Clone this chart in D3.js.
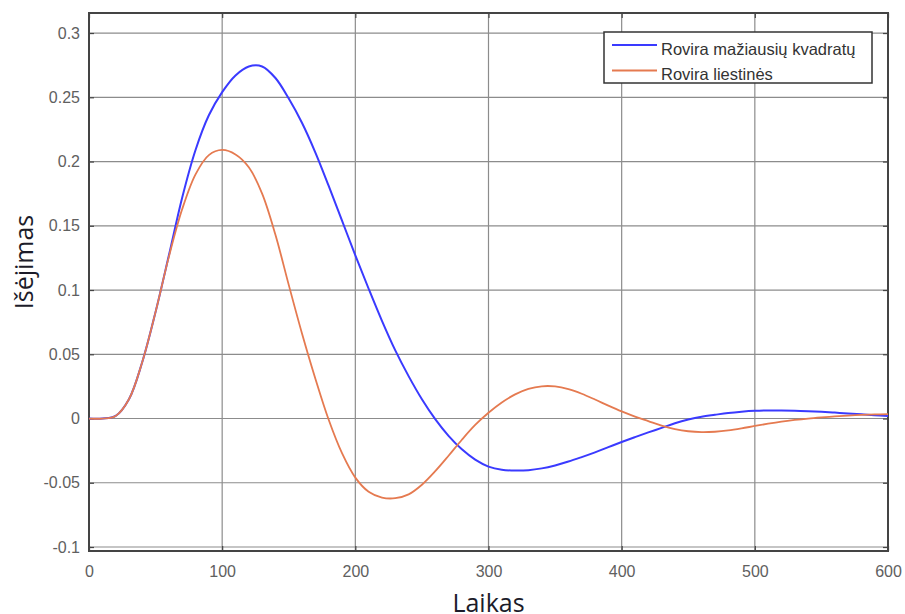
<!DOCTYPE html>
<html>
<head>
<meta charset="utf-8">
<script src="https://cdn.jsdelivr.net/npm/d3@7"></script>
<style>
  body { margin: 0; background: #fff; }
  svg { display: block; }
</style>
</head>
<body>
<div id="chart"></div>
<script>
// Step response comparison: least-squares vs tangent Rovira tuning

const laikas = d3.range(0, 601, 10);

const roviraMaziausiu = [
  0, 0, 0.002, 0.015, 0.044, 0.083, 0.127, 0.172, 0.209, 0.236,
  0.254, 0.267, 0.274, 0.274, 0.265, 0.249, 0.23, 0.207, 0.181, 0.154,
  0.127, 0.101, 0.076, 0.053, 0.033, 0.015, -0.0005, -0.0135, -0.024, -0.032,
  -0.0374, -0.0399, -0.0405, -0.0402, -0.0388, -0.0365, -0.0335, -0.030, -0.0263, -0.0223,
  -0.0183, -0.0145, -0.0108, -0.0073, -0.0037, -0.0008, 0.0014, 0.0029, 0.0043, 0.0053,
  0.006, 0.0063, 0.0063, 0.0061, 0.0057, 0.0052, 0.0046, 0.004, 0.0033, 0.0026,
  0.002
];

const roviraLiestines = [
  0, 0, 0.002, 0.015, 0.044, 0.083, 0.126, 0.163, 0.19, 0.205,
  0.209, 0.2055, 0.1955, 0.175, 0.143, 0.104, 0.066, 0.031, -0.001, -0.027,
  -0.046, -0.057, -0.0615, -0.062, -0.059, -0.0515, -0.041, -0.029, -0.0165, -0.005,
  0.0045, 0.0125, 0.0188, 0.0231, 0.0251, 0.025, 0.0229, 0.0193, 0.0148, 0.01,
  0.0055, 0.0015, -0.002, -0.0055, -0.0082, -0.0099, -0.0106, -0.0103, -0.0093, -0.0077,
  -0.0058, -0.004, -0.0024, -0.0011, 0, 0.0009, 0.0017, 0.0023, 0.0028, 0.0032,
  0.0034
];

const xTicks = [0, 100, 200, 300, 400, 500, 600];
const yTicks = [-0.1, -0.05, 0, 0.05, 0.1, 0.15, 0.2, 0.25, 0.3];
const seriesNames = ['Rovira mažiausių kvadratų', 'Rovira liestinės'];
const seriesColors = ['#3a3aff', '#e57a50'];

const width = 905, height = 614;
const margin = { top: 13, right: 17, bottom: 63, left: 89 };

const svg = d3.select('#chart').append('svg')
  .attr('width', width)
  .attr('height', height);

const x = d3.scaleLinear().domain([0, 600]).range([margin.left, width - margin.right]);
const y = d3.scaleLinear().domain([-0.1031, 0.3156]).range([height - margin.bottom, margin.top]);

const x0 = x.range()[0], x1 = x.range()[1];
const y0 = y.range()[0], y1 = y.range()[1];

// grid
const grid = svg.append('g').attr('stroke', '#8c8c8c').attr('stroke-width', 1.2);
grid.selectAll('.vg').data(xTicks.slice(1, -1)).join('line')
  .attr('x1', d => x(d)).attr('x2', d => x(d))
  .attr('y1', y1).attr('y2', y0);
grid.selectAll('.hg').data(yTicks).join('line')
  .attr('x1', x0).attr('x2', x1)
  .attr('y1', d => y(d)).attr('y2', d => y(d));

// axes with inward ticks, box style; plain hyphen for negatives
const fmt = d => String(+d.toFixed(2));
const axisStyle = g => {
  g.select('.domain').remove();
  g.selectAll('.tick line').attr('stroke', '#444').attr('stroke-width', 1.2);
  g.selectAll('.tick text')
    .attr('fill', '#606060')
    .attr('font-family', 'Liberation Sans, Arial, sans-serif')
    .attr('font-size', 16);
};

svg.append('g').attr('transform', `translate(0,${y0})`)
  .call(d3.axisBottom(x).tickValues(xTicks).tickSize(-5).tickPadding(15).tickFormat(fmt))
  .call(axisStyle);
svg.append('g').attr('transform', `translate(0,${y1})`)
  .call(d3.axisTop(x).tickValues(xTicks).tickSize(-5).tickFormat(''))
  .call(axisStyle);
svg.append('g').attr('transform', `translate(${x0},0)`)
  .call(d3.axisLeft(y).tickValues(yTicks).tickSize(-5).tickPadding(9).tickFormat(fmt))
  .call(axisStyle);
svg.append('g').attr('transform', `translate(${x1},0)`)
  .call(d3.axisRight(y).tickValues(yTicks).tickSize(-5).tickFormat(''))
  .call(axisStyle);

// frame
svg.append('rect')
  .attr('x', x0).attr('y', y1)
  .attr('width', x1 - x0).attr('height', y0 - y1)
  .attr('fill', 'none').attr('stroke', '#444').attr('stroke-width', 2);

// lines
const line = d3.line()
  .x((d, i) => x(laikas[i]))
  .y(d => y(d))
  .curve(d3.curveCatmullRom.alpha(0.5));

[roviraMaziausiu, roviraLiestines].forEach((vals, i) => {
  svg.append('path')
    .datum(vals)
    .attr('fill', 'none')
    .attr('stroke', seriesColors[i])
    .attr('stroke-width', i === 0 ? 2 : 1.8)
    .attr('d', line);
});

// legend
const lg = svg.append('g');
lg.append('rect')
  .attr('x', 604).attr('y', 32).attr('width', 268).attr('height', 51)
  .attr('fill', '#fff').attr('stroke', '#333').attr('stroke-width', 1.5);
seriesNames.forEach((name, i) => {
  const ly = 45 + i * 25.5;
  lg.append('line')
    .attr('x1', 612).attr('x2', 657).attr('y1', ly).attr('y2', ly)
    .attr('stroke', seriesColors[i]).attr('stroke-width', 2);
  lg.append('text')
    .attr('x', 661).attr('y', ly + 9.5)
    .attr('font-family', 'Liberation Sans, Arial, sans-serif')
    .attr('font-size', 16.5)
    .attr('fill', '#333')
    .text(name);
});

// axis titles
svg.append('text')
  .attr('x', (x0 + x1) / 2).attr('y', 612)
  .attr('text-anchor', 'middle')
  .attr('font-family', 'Open Sans, Lato, sans-serif')
  .attr('font-size', 25)
  .attr('fill', '#1c1c2a')
  .text('Laikas');

svg.append('text')
  .attr('transform', 'translate(33,262) rotate(-90)')
  .attr('text-anchor', 'middle')
  .attr('font-family', 'Open Sans, Lato, sans-serif')
  .attr('font-size', 25)
  .attr('fill', '#1c1c2a')
  .text('Išėjimas');
</script>
</body>
</html>
